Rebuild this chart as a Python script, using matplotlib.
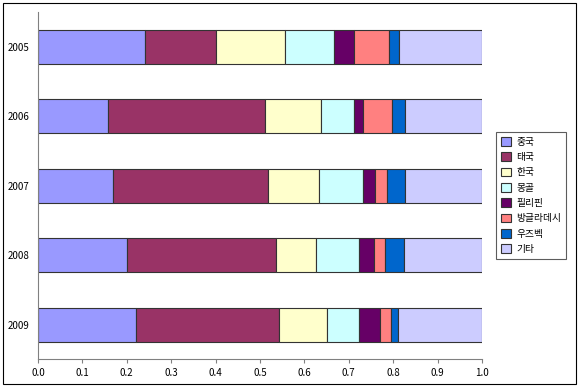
import matplotlib
matplotlib.use("Agg")
from matplotlib import pyplot as plt
from matplotlib.patches import Rectangle

plt.rcParams['font.family'] = ['Noto Sans CJK KR', 'DejaVu Sans']

years = ['2005', '2006', '2007', '2008', '2009']
countries = ['중국', '태국', '한국', '몽골', '필리핀', '방글라데시', '우즈벡', '기타']
colors = ['#9999FF', '#993366', '#FFFFCC', '#CCFFFF', '#660066', '#FF8080', '#0066CC', '#CCCCFF']

# share of each country per year (2005..2009)
china = [0.241, 0.158, 0.170, 0.200, 0.220]
thailand = [0.159, 0.354, 0.348, 0.336, 0.322]
korea = [0.156, 0.126, 0.116, 0.090, 0.108]
mongolia = [0.111, 0.073, 0.099, 0.097, 0.074]
philippines = [0.044, 0.021, 0.026, 0.034, 0.047]
bangladesh = [0.079, 0.065, 0.028, 0.024, 0.023]
uzbek = [0.022, 0.030, 0.039, 0.043, 0.017]
others = [0.188, 0.173, 0.174, 0.176, 0.189]

series = [china, thailand, korea, mongolia, philippines, bangladesh, uzbek, others]

fig = plt.figure(figsize=(5.78, 3.89), dpi=100)
ax = fig.add_axes([38/578, 1-359.3/389, (482-38)/578, (359.3-12)/389])

ypos = list(range(len(years)))
left = [0.0]*len(years)
for vals, name, c in zip(series, countries, colors):
    ax.barh(ypos, vals, left=left, height=0.49, color=c, edgecolor='#333333',
            linewidth=0.8, label=name)
    left = [l + v for l, v in zip(left, vals)]

ax.set_xlim(0, 1)
ax.set_ylim(4.5, -0.5)
ax.set_xticks([i/10 for i in range(11)])
ax.set_xticklabels(['%.1f' % (i/10) for i in range(11)], fontsize=7)
ax.set_yticks(ypos)
ax.set_yticklabels(years, fontsize=7)
ax.tick_params(axis='x', direction='out', length=3, color='#808080', pad=3)
ax.tick_params(axis='y', length=0, pad=6)
ax.spines['top'].set_visible(False)
ax.spines['right'].set_visible(False)
ax.spines['left'].set_color('#808080')
ax.spines['bottom'].set_color('#808080')

leg = fig.legend(loc='upper left', bbox_to_anchor=(496/578, 1-131.7/389),
                 fontsize=7, frameon=True, fancybox=False, edgecolor='#333333',
                 handlelength=1.0, handleheight=1.0, handletextpad=0.6,
                 labelspacing=0.55, borderpad=0.5, borderaxespad=0)
leg.get_frame().set_linewidth(0.8)

fig.patches.append(Rectangle((3/578, 1-384/389), 573/578, 381/389,
                             transform=fig.transFigure, fill=False,
                             edgecolor='black', linewidth=0.8))

fig.savefig('out.png', dpi=100)
